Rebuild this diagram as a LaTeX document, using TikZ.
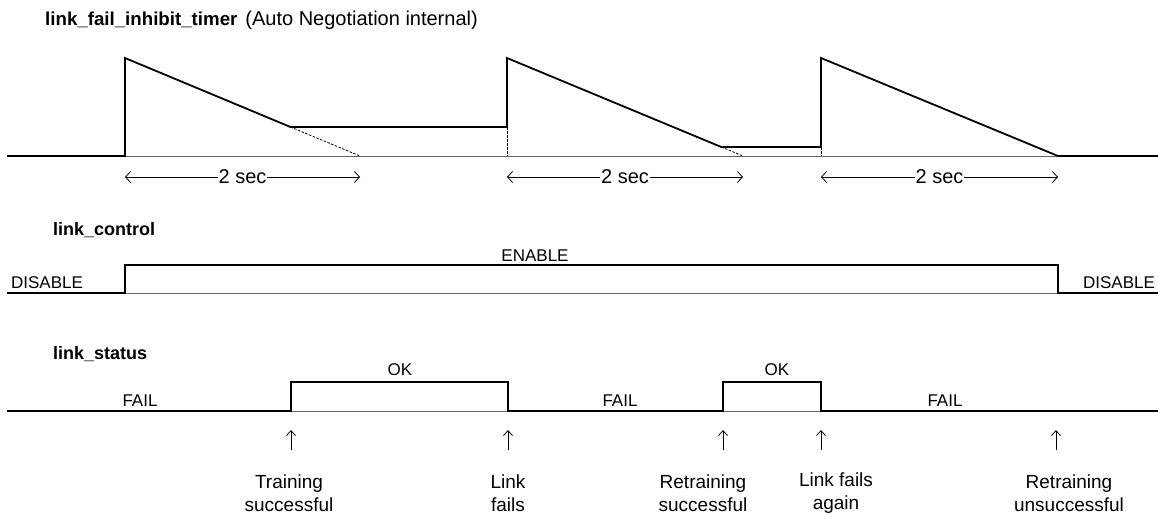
\documentclass[tikz,border=0pt]{standalone}
\usepackage{fontspec}
\setmainfont{Liberation Sans}
\usetikzlibrary{arrows.meta}
\begin{document}
\begin{tikzpicture}[x=1pt,y=-1pt,
  sig/.style={line width=1.8pt,line join=miter},
  base/.style={line width=0.8pt,black!60},
  dsh/.style={line width=0.8pt,dash pattern=on 2.5pt off 1.5pt},
  dim/.style={line width=0.8pt,{Straight Barb[length=5pt,width=11pt]}-{Straight Barb[length=5pt,width=11pt]}},
  evt/.style={line width=0.8pt,-{Straight Barb[length=5pt,width=9pt]}},
  ttl/.style={anchor=west,inner sep=0pt,font=\fontsize{18}{21}\selectfont},
  lbl/.style={inner sep=0pt,font=\fontsize{17}{20}\selectfont},
  dimlbl/.style={fill=white,inner sep=1pt,font=\fontsize{20}{24}\selectfont},
  note/.style={align=center,inner sep=0pt,font=\fontsize{19}{23}\selectfont}]
\useasboundingbox (0,0) rectangle (1158,517);

% ---------- link_fail_inhibit_timer ----------
\node[ttl] (t1) at (45,20) {{\fontsize{18.7}{21}\selectfont\bfseries link\_fail\_inhibit\_timer}\hspace{8pt}{\fontsize{20}{23}\selectfont(Auto Negotiation internal)}};
\draw[base] (125,156) -- (1058,156);
\draw[dsh] (290.5,127) -- (360,156);
\draw[dsh] (507,127) -- (507,156);
\draw[dsh] (721.3,147) -- (743,156);
\draw[dsh] (821,147) -- (821,156);
\draw[sig] (7,156) -- (125,156) -- (125,58) -- (290.5,127) -- (507,127) -- (507,58)
  -- (721.3,147) -- (821,147) -- (821,58) -- (1058,156) -- (1158,156);

\coordinate (a1) at (125,177); \coordinate (b1) at (360,177);
\coordinate (a2) at (507,177); \coordinate (b2) at (743,177);
\coordinate (a3) at (821,177); \coordinate (b3) at (1058,177);
\draw[dim] (a1) -- node[dimlbl] (s1) {2 sec} (b1);
\draw[dim] (a2) -- node[dimlbl] (s2) {2 sec} (b2);
\draw[dim] (a3) -- node[dimlbl] (s3) {2 sec} (b3);

% ---------- link_control ----------
\node[ttl] (t2) at (53,230) {\textbf{link\_control}};
\draw[base] (125,293) -- (1058,293);
\draw[sig] (7,293) -- (125,293) -- (125,265) -- (1058,265) -- (1058,293) -- (1158,293);
\node[lbl] (dis1) at (47,283) {DISABLE};
\node[lbl] (en) at (535,256) {ENABLE};
\node[lbl] (dis2) at (1119,283) {DISABLE};

% ---------- link_status ----------
\node[ttl] (t3) at (53,354) {\textbf{link\_status}};
\draw[base] (291,411) -- (508,411);
\draw[base] (723,411) -- (821,411);
\draw[sig] (7,411) -- (291,411) -- (291,382) -- (508,382) -- (508,411) -- (723,411)
  -- (723,382) -- (821,382) -- (821,411) -- (1158,411);
\node[lbl] (f1) at (140,401) {FAIL};
\node[lbl] (ok1) at (400,370) {OK};
\node[lbl] (f2) at (620,401) {FAIL};
\node[lbl] (ok2) at (777,370) {OK};
\node[lbl] (f3) at (945,401) {FAIL};

\node[note] (n1) at (289,493) {Training\\successful};
\node[note] (n2) at (508,493) {Link\\fails};
\node[note] (n3) at (703,493) {Retraining\\successful};
\node[note] (n4) at (836,493) {Link fails\\again};
\node[note] (n5) at (1069,493) {Retraining\\unsuccessful};

\coordinate (e1) at (291,430); \coordinate (e2) at (508,430);
\coordinate (e3) at (723,430); \coordinate (e4) at (821,430);
\coordinate (e5) at (1056,430);
\draw[evt] (291,450) -- (e1);
\draw[evt] (508,450) -- (e2);
\draw[evt] (723,450) -- (e3);
\draw[evt] (821,450) -- (e4);
\draw[evt] (1056,450) -- (e5);
\end{tikzpicture}
\end{document}
